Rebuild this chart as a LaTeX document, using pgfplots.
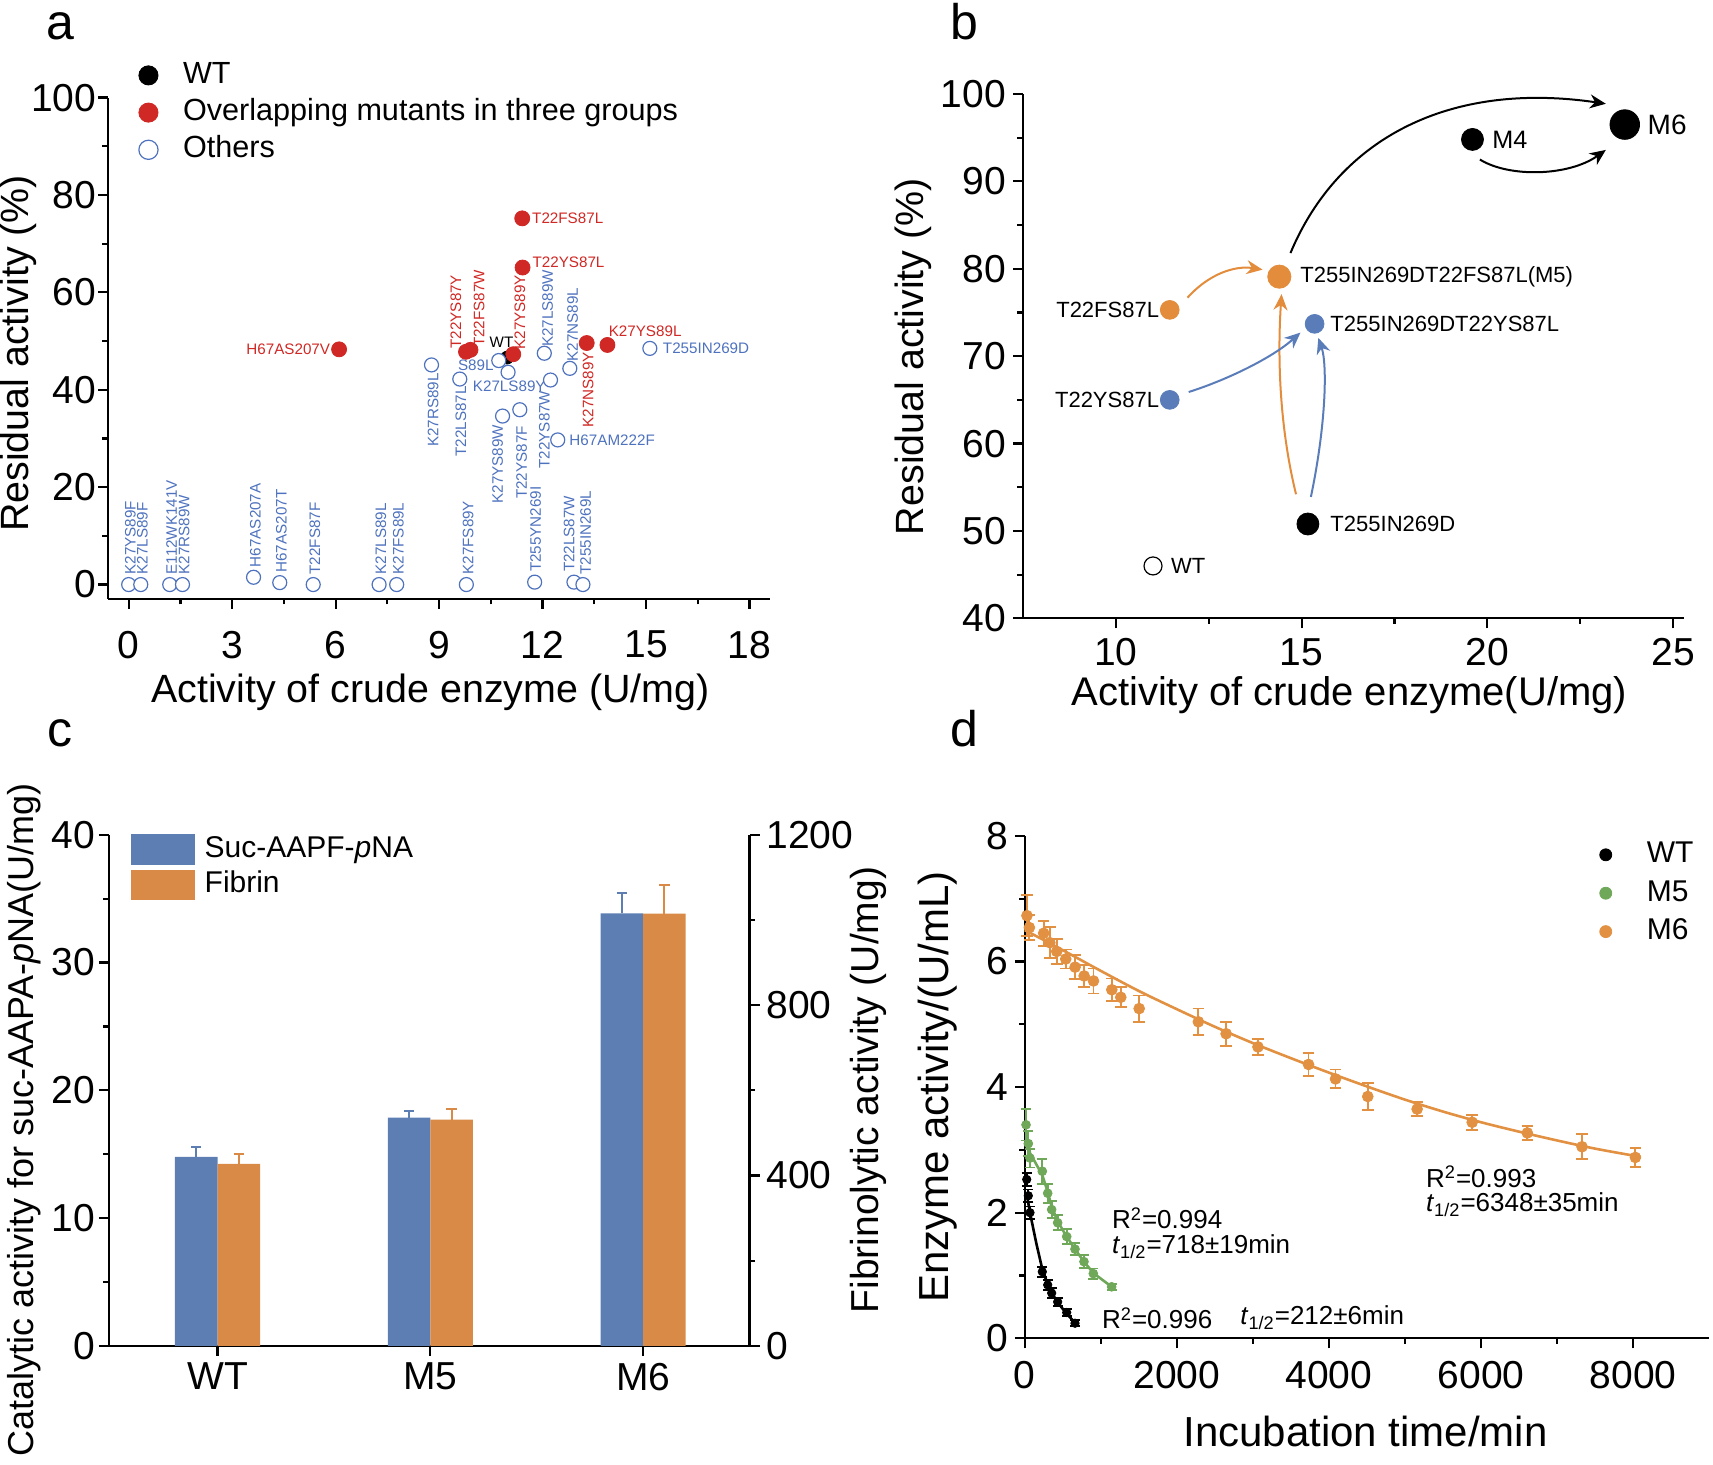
\documentclass[border=0pt]{standalone}
\usepackage{fontspec}
\setmainfont{Liberation Sans}
\usepackage{pgfplots}
\pgfplotsset{compat=1.18}
\usetikzlibrary{arrows.meta}
\definecolor{aRed}{HTML}{D02824}
\definecolor{aBlue}{HTML}{4E72BE}
\definecolor{bOrange}{HTML}{E28C3C}
\definecolor{bBlue}{HTML}{5A7DB9}
\definecolor{cBlue}{HTML}{5C7EB2}
\definecolor{cOrange}{HTML}{D88A46}
\definecolor{dGreen}{HTML}{70A85A}
\definecolor{dOrange}{HTML}{E19141}
\newcommand{\fs}[1]{\fontsize{#1}{#1}\selectfont}
\pgfplotsset{
  common/.style={
    scale only axis, anchor=south west, clip=false,
    axis x line*=bottom, axis y line*=left,
    axis line style={line width=1.1pt,-},
    tick align=outside, major tick length=5pt, minor tick length=2.8pt,
    every tick/.style={line width=1.1pt,black},
    tick label style={font=\fs{19.5}},
    /pgf/number format/assume math mode=true,
    /pgf/number format/set thousands separator={},
    scaled ticks=false,
  },
  mklegend/.style={legend image code/.code={\draw[mark repeat=2,mark phase=2,##1] plot coordinates {(0pt,0pt)(9pt,0pt)(18pt,0pt)};}},
  barlegend/.style={legend image code/.code={\fill[##1] (0pt,-7.6pt) rectangle (31.75pt,7.6pt);}},
}
\tikzset{
  rlab/.style={font=\fs{7.6}, text=aRed, inner sep=0.5pt},
  blab/.style={font=\fs{7.6}, text=aBlue, inner sep=0.5pt},
  blabel/.style={font=\fs{11}, inner sep=0.5pt},
}
\begin{document}
\begin{tikzpicture}
\useasboundingbox (0,0) rectangle (856.5pt,732.5pt);

% ---------------- panel a ----------------
\begin{axis}[common, at={(54pt,433.15pt)}, width=331.1pt, height=250.55pt,
  xmin=-0.6, xmax=18.6, ymin=-2.9, ymax=100,
  xtick={0,3,...,18}, ytick={0,20,...,100}, minor x tick num=1, minor y tick num=1,
  xticklabel shift=7.6pt, yticklabel shift=-2.7pt,
  mklegend, legend image post style={mark size=4.8pt},
  legend cell align=left,
  legend style={draw=none, fill=none, at={(axis description cs:0.046,1.077)}, anchor=north west,
    inner sep=0pt, font=\fs{15.3}, row sep=2.6pt,
    nodes={inner sep=1pt, text height=11pt, text depth=3pt},
    /tikz/every odd column/.append style={column sep=11.5pt}},
]
\addplot[only marks, mark=*, mark size=3.2pt, black] coordinates {(10.97,46.6)};
\addlegendentry{WT}
\addplot[only marks, mark=*, mark size=3.75pt, aRed] coordinates {
(6.10,48.3) (9.78,47.8) (9.91,48.2) (11.15,47.3) (11.41,75.2) (11.42,65.1) (13.28,49.6) (13.88,49.2)};
\addlegendentry{Overlapping mutants in three groups}
\addplot[only marks, mark=*, mark size=3.5pt, draw=aBlue, fill=white, line width=0.6pt, mark options={fill=white, draw=aBlue}] coordinates {
(10.73,46.0) (11.0,43.6) (8.78,45.1) (9.60,42.2) (10.84,34.6) (11.34,35.9) (12.23,42.0) (12.05,47.5) (12.79,44.4) (12.44,29.7) (15.11,48.5)
(0.0,0) (0.35,0) (1.19,0) (1.56,0) (3.62,1.5) (4.38,0.4) (5.35,0) (7.26,0) (7.77,0) (9.79,0) (11.77,0.5) (12.91,0.5) (13.17,0)};
\addlegendentry{Others}
% red labels
\node[rlab, anchor=east] at (axis cs:5.88,48.3) {H67AS207V};
\node[rlab, anchor=west] at (axis cs:11.66,75.2) {T22FS87L};
\node[rlab, anchor=west] at (axis cs:11.67,66.1) {T22YS87L};
\node[rlab, anchor=west] at (axis cs:13.88,52.0) {K27YS89L};
\node[rlab, rotate=90, anchor=west] at (axis cs:9.49,48.2) {T22YS87Y};
\node[rlab, rotate=90, anchor=west] at (axis cs:10.16,48.5) {T22FS87W};
\node[rlab, rotate=90, anchor=west] at (axis cs:11.34,48.0) {K27YS89Y};
\node[rlab, rotate=90, anchor=east] at (axis cs:13.32,48.0) {K27NS89Y};
\node[font=\fs{7.6}, inner sep=0.5pt] at (axis cs:10.81,49.7) {WT};
% blue labels
\node[blab, anchor=east] at (axis cs:10.62,45.1) {S89L};
\node[blab, anchor=west] at (axis cs:9.94,40.7) {K27LS89Y};
\node[blab, rotate=90, anchor=east] at (axis cs:8.83,43.7) {K27RS89L};
\node[blab, rotate=90, anchor=east] at (axis cs:9.63,41.0) {T22LS87L};
\node[blab, rotate=90, anchor=east] at (axis cs:10.70,33.1) {K27YS89W};
\node[blab, rotate=90, anchor=east] at (axis cs:11.39,32.8) {T22YS87F};
\node[blab, rotate=90, anchor=east] at (axis cs:12.05,40.1) {T22YS87W};
\node[blab, rotate=90, anchor=west] at (axis cs:12.15,48.5) {K27LS89W};
\node[blab, rotate=90, anchor=west] at (axis cs:12.87,45.5) {K27NS89L};
\node[blab, anchor=west] at (axis cs:12.74,29.7) {H67AM222F};
\node[blab, anchor=west] at (axis cs:15.45,48.5) {T255IN269D};
% bottom row labels
\node[blab, rotate=90, anchor=west] at (axis cs:0.05,1.8) {K27YS89F};
\node[blab, rotate=90, anchor=west] at (axis cs:0.40,1.8) {K27LS89F};
\node[blab, rotate=90, anchor=west] at (axis cs:1.24,1.8) {E112WK141V};
\node[blab, rotate=90, anchor=west] at (axis cs:1.61,1.8) {K27RS89W};
\node[blab, rotate=90, anchor=west] at (axis cs:3.67,3.3) {H67AS207A};
\node[blab, rotate=90, anchor=west] at (axis cs:4.43,2.2) {H67AS207T};
\node[blab, rotate=90, anchor=west] at (axis cs:5.40,1.8) {T22FS87F};
\node[blab, rotate=90, anchor=west] at (axis cs:7.31,1.8) {K27LS89L};
\node[blab, rotate=90, anchor=west] at (axis cs:7.82,1.8) {K27FS89L};
\node[blab, rotate=90, anchor=west] at (axis cs:9.84,1.8) {K27FS89Y};
\node[blab, rotate=90, anchor=west] at (axis cs:11.80,2.3) {T255YN269I};
\node[blab, rotate=90, anchor=west] at (axis cs:12.77,2.3) {T22LS87W};
\node[blab, rotate=90, anchor=west] at (axis cs:13.25,1.8) {T255IN269L};
\end{axis}

% ---------------- panel b ----------------
\begin{axis}[common, at={(511.5pt,423.3pt)}, width=330.6pt, height=262.2pt,
  xmin=7.5, xmax=25.3, ymin=40, ymax=100,
  xtick={10,15,20,25}, ytick={40,50,...,100}, minor x tick num=1, minor y tick num=1,
  xticklabel shift=1.6pt,
]
\addplot[only marks, mark=*, mark size=4.5pt, mark options={fill=white, draw=black, line width=0.6pt}] coordinates {(11,46)};
\addplot[only marks, mark=*, mark size=4.7pt, bOrange] coordinates {(11.45,75.3)};
\addplot[only marks, mark=*, mark size=4.7pt, bBlue] coordinates {(11.45,65) (15.35,73.7)};
\addplot[only marks, mark=*, mark size=5.8pt, bOrange] coordinates {(14.4,79.1)};
\addplot[only marks, mark=*, mark size=5.5pt, black] coordinates {(15.17,50.8) (19.6,94.8)};
\addplot[only marks, mark=*, mark size=7.4pt, black] coordinates {(23.7,96.5)};
\draw[-{Stealth[length=8pt,width=7pt]}, line width=1pt, black] (axis cs:14.7,81.8) .. controls (axis cs:16.0,95) and (axis cs:19.0,101.5) .. (axis cs:23.19,98.88);
\draw[-{Stealth[length=8pt,width=7pt]}, line width=1pt, black] (axis cs:19.8,92.5) .. controls (axis cs:20.6,90.4) and (axis cs:22.2,90.6) .. (axis cs:23.19,93.6);
\draw[-{Stealth[length=8pt,width=7pt]}, line width=1pt, bOrange] (axis cs:11.93,76.7) .. controls (axis cs:12.5,79.4) and (axis cs:13.2,80.4) .. (axis cs:13.95,79.9);
\draw[-{Stealth[length=8pt,width=7pt]}, line width=1pt, bOrange] (axis cs:14.85,54.2) .. controls (axis cs:14.4,62) and (axis cs:14.35,70) .. (axis cs:14.46,77.1);
\draw[-{Stealth[length=8pt,width=7pt]}, line width=1pt, bBlue] (axis cs:11.96,65.9) .. controls (axis cs:13.0,67.3) and (axis cs:14.2,69.8) .. (axis cs:14.97,72.7);
\draw[-{Stealth[length=8pt,width=7pt]}, line width=1pt, bBlue] (axis cs:15.25,53.9) .. controls (axis cs:15.65,62) and (axis cs:15.7,69) .. (axis cs:15.45,72.1);
\node[blabel, anchor=west] at (axis cs:11.45,46) {WT};
\node[blabel, anchor=east] at (axis cs:11.2,75.3) {T22FS87L};
\node[blabel, anchor=east] at (axis cs:11.2,65) {T22YS87L};
\node[blabel, anchor=west] at (axis cs:14.93,79.1) {T255IN269DT22FS87L(M5)};
\node[blabel, anchor=west] at (axis cs:15.74,73.7) {T255IN269DT22YS87L};
\node[blabel, anchor=west] at (axis cs:15.74,50.8) {T255IN269D};
\node[blabel, anchor=west, font=\fs{12.6}] at (axis cs:20.1,94.8) {M4};
\node[blabel, anchor=west, font=\fs{14}] at (axis cs:24.28,96.5) {M6};
\end{axis}

% ---------------- panel c ----------------
\begin{axis}[common, at={(54.5pt,59.5pt)}, width=320.25pt, height=255.65pt,
  xmin=0.49, xmax=3.5, ymin=0, ymax=40,
  xtick={1,2,3}, xticklabels={WT,M5,M6}, ytick={0,10,...,40}, minor y tick num=1,
  yticklabel shift=-1.5pt,
  legend cell align=left,
  legend style={draw=none, fill=none, at={(axis description cs:0.034,1.004)}, anchor=north west,
    inner sep=0pt, font=\fs{15}, row sep=1.2pt,
    nodes={inner sep=1pt, text height=11pt, text depth=3.5pt},
    /tikz/every odd column/.append style={column sep=4pt}},
]
\addplot[ybar, bar width=0.2, bar shift=0pt, fill=cBlue, draw=none, forget plot,
  error bars/.cd, y dir=plus, y explicit,
  error bar style={line width=1pt, cBlue},
  error mark options={rotate=90, mark size=2.6pt, line width=1pt, cBlue}]
  coordinates {(0.9,14.8) +- (0,0.8) (1.9,17.87) +- (0,0.55) (2.9,33.84) +- (0,1.6)};
\addlegendimage{fill=cBlue, draw=none, barlegend}
\addlegendentry{Suc-AAPF-\textit{p}NA}
\addlegendimage{fill=cOrange, draw=none, barlegend}
\addlegendentry{Fibrin}
\end{axis}
\begin{axis}[common, at={(54.5pt,59.5pt)}, width=320.25pt, height=255.65pt,
  xmin=0.49, xmax=3.5, ymin=0, ymax=1200,
  axis y line*=right, axis x line=none,
  ytick={0,400,800,1200}, minor y tick num=1,
]
\addplot[ybar, bar width=0.2, bar shift=0pt, fill=cOrange, draw=none,
  error bars/.cd, y dir=plus, y explicit,
  error bar style={line width=1pt, cOrange},
  error mark options={rotate=90, mark size=2.6pt, line width=1pt, cOrange}]
  coordinates {(1.1,427.5) +- (0,22.5) (2.1,531) +- (0,25) (3.1,1015) +- (0,68)};
\end{axis}

% ---------------- panel d ----------------
\begin{axis}[common, at={(512.4pt,63.35pt)}, width=342.2pt, height=251.2pt,
  xmin=0, xmax=9000, ymin=0, ymax=8,
  xtick={0,2000,...,8000}, ytick={0,2,...,8}, minor x tick num=1, minor y tick num=1,
  xticklabel shift=3pt,
  mklegend, legend image post style={mark size=3pt},
  legend cell align=left,
  legend style={draw=none, fill=none, at={(axis description cs:0.8395,0.995)}, anchor=north west,
    inner sep=0pt, font=\fs{15}, row sep=3.2pt,
    nodes={inner sep=1pt, text height=11pt, text depth=3pt},
    /tikz/every odd column/.append style={column sep=16.5pt}},
]
% fit lines
\addplot[forget plot, dOrange, line width=1.3pt, smooth] coordinates {
(0,6.5) (500,6.18) (1000,5.85) (1500,5.53) (2000,5.24) (2500,4.96) (3000,4.7) (3500,4.46) (4000,4.23) (4500,4.01) (5000,3.8) (5500,3.61) (6000,3.44) (6500,3.29) (7000,3.15) (7500,3.02) (8000,2.91) (8100,2.89)};
\addplot[forget plot, dGreen, line width=1.3pt] coordinates {
(16,3.3) (68,2.95) (230,2.6) (301,2.33) (353,2.1) (432,1.86) (551,1.62) (660,1.42) (778,1.22) (901,1.04) (1142,0.82)};
\addplot[forget plot, black, line width=1.3pt] coordinates {
(25,2.3) (68,2.0) (150,1.52) (230,1.1) (301,0.86) (353,0.73) (432,0.57) (551,0.39) (660,0.25)};
% data
\addplot[only marks, mark=*, mark size=2.1pt, black,
  error bars/.cd, y dir=both, y explicit, error bar style={line width=0.9pt, black},
  error mark options={rotate=90, mark size=2.5pt, line width=0.9pt, black}]
  coordinates {(25,2.53) +- (0,0.1) (46,2.27) +- (0,0.1) (68,2.0) +- (0,0.1) (230,1.06) +- (0,0.08)
  (301,0.85) +- (0,0.08) (353,0.72) +- (0,0.08) (432,0.58) +- (0,0.06) (551,0.41) +- (0,0.06) (660,0.24) +- (0,0.05)};
\addlegendentry{WT}
\addplot[only marks, mark=*, mark size=2.2pt, dGreen,
  error bars/.cd, y dir=both, y explicit, error bar style={line width=0.9pt, dGreen},
  error mark options={rotate=90, mark size=2.5pt, line width=0.9pt, dGreen}]
  coordinates {(16,3.40) +- (0,0.25) (46,3.10) +- (0,0.2) (68,2.87) +- (0,0.15) (230,2.66) +- (0,0.2)
  (301,2.31) +- (0,0.15) (353,2.05) +- (0,0.13) (432,1.84) +- (0,0.12) (551,1.62) +- (0,0.12)
  (660,1.42) +- (0,0.1) (778,1.22) +- (0,0.1) (901,1.03) +- (0,0.08) (1142,0.82) +- (0,0.05)};
\addlegendentry{M5}
\addplot[only marks, mark=*, mark size=2.7pt, dOrange,
  error bars/.cd, y dir=both, y explicit, error bar style={line width=0.9pt, dOrange},
  error mark options={rotate=90, mark size=2.9pt, line width=0.9pt, dOrange}]
  coordinates {(28,6.73) +- (0,0.33) (60,6.54) +- (0,0.2) (248,6.45) +- (0,0.2) (329,6.30) +- (0,0.25)
  (420,6.16) +- (0,0.2) (538,6.04) +- (0,0.15) (661,5.91) +- (0,0.19) (780,5.77) +- (0,0.17)
  (903,5.69) +- (0,0.2) (1144,5.55) +- (0,0.18) (1262,5.43) +- (0,0.16) (1504,5.25) +- (0,0.21)
  (2282,5.04) +- (0,0.21) (2647,4.85) +- (0,0.19) (3066,4.64) +- (0,0.13) (3731,4.36) +- (0,0.18)
  (4086,4.13) +- (0,0.15) (4510,3.85) +- (0,0.21) (5159,3.65) +- (0,0.11) (5883,3.44) +- (0,0.12)
  (6608,3.27) +- (0,0.11) (7327,3.05) +- (0,0.2) (8029,2.88) +- (0,0.15)};
\addlegendentry{M6}
\end{axis}

% ---------------- labels ----------------
\node[font=\fs{25}, anchor=base, inner sep=0pt] at (30pt,712.5pt) {a};
\node[font=\fs{25}, anchor=base, inner sep=0pt] at (482.3pt,712.5pt) {b};
\node[font=\fs{25}, anchor=base, inner sep=0pt] at (30pt,359pt) {c};
\node[font=\fs{25}, anchor=base, inner sep=0pt] at (482.3pt,359pt) {d};

\node[rotate=90, font=\fs{19.7}] at (9.3pt,555.8pt) {Residual activity (\%)};
\node[font=\fs{19.7}] at (215.2pt,386.2pt) {Activity of crude enzyme (U/mg)};
\node[rotate=90, font=\fs{19.7}] at (456.7pt,554.2pt) {Residual activity (\%)};
\node[font=\fs{20}] at (674.6pt,385.1pt) {Activity of crude enzyme(U/mg)};
\node[rotate=90, font=\fs{18}] at (12pt,172.5pt) {Catalytic activity for suc-AAPA-\textit{p}NA(U/mg)};
\node[rotate=90, font=\fs{19.5}] at (434.3pt,187.5pt) {Fibrinolytic activity (U/mg)};
\node[rotate=90, font=\fs{21}] at (468.7pt,189pt) {Enzyme activity/(U/mL)};
\node[font=\fs{21}] at (682.8pt,17pt) {Incubation time/min};

\node[anchor=west, font=\fs{13}, inner sep=0pt] at (712.85pt,144.15pt) {R\textsuperscript{2}=0.993};
\node[anchor=west, font=\fs{13}, inner sep=0pt] at (712.85pt,130pt) {\textit{t}\textsubscript{1/2}=6348±35min};
\node[anchor=west, font=\fs{13}, inner sep=0pt] at (555.85pt,123.35pt) {R\textsuperscript{2}=0.994};
\node[anchor=west, font=\fs{13}, inner sep=0pt] at (555.85pt,109.15pt) {\textit{t}\textsubscript{1/2}=718±19min};
\node[anchor=west, font=\fs{13}, inner sep=0pt] at (550.85pt,73.35pt) {R\textsuperscript{2}=0.996};
\node[anchor=west, font=\fs{13}, inner sep=0pt] at (620pt,73.5pt) {\textit{t}\textsubscript{1/2}=212±6min};
\end{tikzpicture}
\end{document}
